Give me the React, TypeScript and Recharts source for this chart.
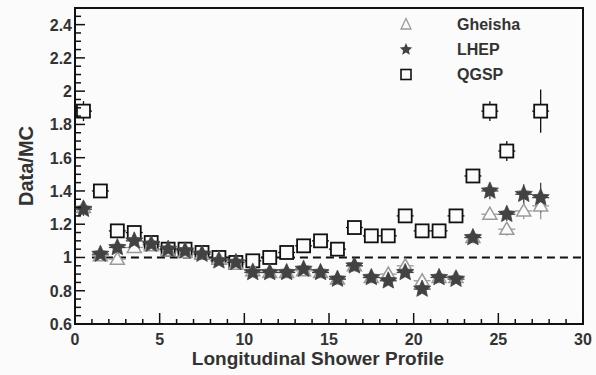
import React from 'react';
import {
  ScatterChart,
  Scatter,
  XAxis,
  YAxis,
  ReferenceLine,
  ReferenceArea,
  ErrorBar,
  Legend,
} from 'recharts';

// ---- data ----
const binCenters = [
  0.5, 1.5, 2.5, 3.5, 4.5, 5.5, 6.5, 7.5, 8.5, 9.5, 10.5, 11.5, 12.5, 13.5,
  14.5, 15.5, 16.5, 17.5, 18.5, 19.5, 20.5, 21.5, 22.5, 23.5, 24.5, 25.5, 26.5, 27.5,
];
const binHalfWidth = 0.5;

const gheishaValues = [
  1.3, 1.01, 0.99, 1.06, 1.07, 1.04, 1.03, 1.02, 0.99, 0.96, 0.92, 0.91, 0.91, 0.92,
  0.91, 0.87, 0.95, 0.88, 0.9, 0.95, 0.86, 0.88, 0.88, 1.12, 1.26, 1.17, 1.28, 1.31,
];
const gheishaErrors = [
  0.04, 0.02, 0.02, 0.02, 0.01, 0.01, 0.01, 0.01, 0.01, 0.01, 0.01, 0.01, 0.01, 0.01,
  0.01, 0.02, 0.02, 0.02, 0.02, 0.02, 0.02, 0.02, 0.02, 0.03, 0.03, 0.04, 0.05, 0.08,
];

const lhepValues = [
  1.29, 1.02, 1.06, 1.1, 1.08, 1.05, 1.04, 1.02, 0.98, 0.97, 0.91, 0.91, 0.91, 0.93,
  0.91, 0.87, 0.95, 0.88, 0.86, 0.91, 0.81, 0.88, 0.87, 1.12, 1.4, 1.26, 1.38, 1.36,
];
const lhepErrors = [
  0.04, 0.02, 0.02, 0.02, 0.01, 0.01, 0.01, 0.01, 0.01, 0.01, 0.01, 0.01, 0.01, 0.01,
  0.01, 0.02, 0.02, 0.02, 0.02, 0.02, 0.02, 0.02, 0.02, 0.03, 0.05, 0.04, 0.06, 0.09,
];

const qgspValues = [
  1.88, 1.4, 1.16, 1.15, 1.09, 1.05, 1.05, 1.03, 1.0, 0.97, 0.98, 1.0, 1.03, 1.07,
  1.1, 1.05, 1.18, 1.13, 1.13, 1.25, 1.16, 1.16, 1.25, 1.49, 1.88, 1.64, null, 1.88,
];
const qgspErrors = [
  0.06, 0.02, 0.02, 0.02, 0.01, 0.01, 0.01, 0.01, 0.01, 0.01, 0.01, 0.01, 0.01, 0.01,
  0.01, 0.02, 0.02, 0.02, 0.02, 0.02, 0.02, 0.02, 0.02, 0.03, 0.06, 0.06, null, 0.13,
];

const xMajorTicks = [0, 5, 10, 15, 20, 25, 30];
const yMajorTicks = [0.6, 0.8, 1, 1.2, 1.4, 1.6, 1.8, 2, 2.2, 2.4];
const seriesNames = ['Gheisha', 'LHEP', 'QGSP'];
const xTitle = 'Longitudinal Shower Profile';
const yTitle = 'Data/MC';

// ---- helpers ----
type Pt = { x: number; y: number; ex: number; ey: number };
const build = (vals: (number | null)[], errs: (number | null)[]): Pt[] =>
  binCenters
    .map((x, i) => ({ x, y: vals[i] as number, ex: binHalfWidth, ey: (errs[i] ?? 0) as number }))
    .filter((d) => d.y !== null && d.y !== undefined);

const gheishaData = build(gheishaValues, gheishaErrors);
const lhepData = build(lhepValues, lhepErrors);
const qgspData = build(qgspValues, qgspErrors);

const xTicks = Array.from({ length: 31 }, (_, i) => i);
const yTicks = Array.from({ length: 38 }, (_, i) => Math.round((0.6 + i * 0.05) * 100) / 100);

const FONT = '"Liberation Sans", Arial, Helvetica, sans-serif';
const TEXT = '#333';
const AXIS = '#111';
const BG = '#fbfbfb';

const starPoints = (cx: number, cy: number, ro: number, ri: number) => {
  const pts: string[] = [];
  for (let k = 0; k < 10; k++) {
    const r = k % 2 === 0 ? ro : ri;
    const a = -Math.PI / 2 + (k * Math.PI) / 5;
    pts.push(`${cx + r * Math.cos(a)},${cy + r * Math.sin(a)}`);
  }
  return pts.join(' ');
};

const NoShape = () => <g />;
const SquareShape = (p: any) => {
  const s = 6.5;
  return (
    <rect x={p.cx - s} y={p.cy - s} width={2 * s} height={2 * s} fill={BG} stroke="#111" strokeWidth={1.8} />
  );
};
const StarShape = (p: any) => (
  <polygon points={starPoints(p.cx, p.cy, 9, 4.2)} fill="#424242" stroke="#424242" strokeWidth={0.8} />
);
const TriangleShape = (p: any) => (
  <polygon
    points={`${p.cx},${p.cy - 7} ${p.cx - 7},${p.cy + 5} ${p.cx + 7},${p.cy + 5}`}
    fill={BG}
    stroke="#9a9a9a"
    strokeWidth={1.5}
  />
);

const XTick = (props: any) => {
  const { x, y, payload } = props;
  const v = payload.value;
  const major = xMajorTicks.includes(v);
  return (
    <g>
      <line x1={x} x2={x} y1={y} y2={y - (major ? 11 : 5)} stroke={AXIS} strokeWidth={1.5} />
      {major && (
        <text x={x} y={y + 21} textAnchor="middle" fontFamily={FONT} fontWeight="bold" fontSize={16} fill={TEXT}>
          {v}
        </text>
      )}
    </g>
  );
};

const YTick = (props: any) => {
  const { x, y, payload } = props;
  const v = payload.value;
  const major = yMajorTicks.includes(v);
  return (
    <g>
      <line x1={x} x2={x + (major ? 10 : 6)} y1={y} y2={y} stroke={AXIS} strokeWidth={1.5} />
      {major && (
        <text x={x - 3} y={y + 6} textAnchor="end" fontFamily={FONT} fontWeight="bold" fontSize={16} fill={TEXT}>
          {String(v)}
        </text>
      )}
    </g>
  );
};

const XTitle = () => (
  <text x={318} y={365} textAnchor="middle" fontFamily={FONT} fontWeight="bold" fontSize={19} fill={TEXT}>
    {xTitle}
  </text>
);
const YTitle = () => (
  <text
    x={33}
    y={166}
    transform="rotate(-90 33 166)"
    textAnchor="middle"
    fontFamily={FONT}
    fontWeight="bold"
    fontSize={20}
    fill={TEXT}
  >
    {yTitle}
  </text>
);

const LegendSymbol = ({ idx }: { idx: number }) => (
  <svg width={20} height={25} style={{ display: 'block' }}>
    {idx === 0 && (
      <polygon points="10,6.5 5,17 15,17" fill="none" stroke="#9a9a9a" strokeWidth={1.3} />
    )}
    {idx === 1 && <polygon points={starPoints(10, 12.5, 6.5, 3)} fill="#444" />}
    {idx === 2 && <rect x={5} y={7.5} width={10} height={10} fill="none" stroke="#111" strokeWidth={1.6} />}
  </svg>
);

const LegendContent = () => (
  <div style={{ fontFamily: FONT, fontWeight: 'bold', fontSize: 16, color: TEXT }}>
    {seriesNames.map((n, i) => (
      <div key={n} style={{ display: 'flex', alignItems: 'center', height: 25 }}>
        <LegendSymbol idx={i} />
        <span style={{ marginLeft: 41, lineHeight: '25px' }}>{n}</span>
      </div>
    ))}
  </div>
);

export default function App() {
  return (
    <div style={{ position: 'absolute', left: 0, top: 0, width: 596, height: 375, background: BG }}>
      <ScatterChart width={596} height={375} margin={{ top: 8, right: 13, bottom: 0, left: 0 }}>
        <XAxis
          type="number"
          dataKey="x"
          domain={[0, 30]}
          allowDataOverflow
          ticks={xTicks}
          interval={0}
          tick={<XTick />}
          tickLine={false}
          axisLine={false}
          tickSize={0}
          tickMargin={0}
          height={51}
          label={<XTitle />}
        />
        <YAxis
          type="number"
          dataKey="y"
          domain={[0.6, 2.5]}
          allowDataOverflow
          ticks={yTicks}
          interval={0}
          tick={<YTick />}
          tickLine={false}
          axisLine={false}
          tickSize={0}
          tickMargin={0}
          width={75}
          label={<YTitle />}
        />
        <ReferenceArea x1={0} x2={30} y1={0.6} y2={2.5} fill="none" stroke={AXIS} strokeWidth={2} ifOverflow="visible" />
        <ReferenceLine
          segment={[{ x: 1, y: 1 }, { x: 30, y: 1 }]}
          stroke={AXIS}
          strokeWidth={2}
          strokeDasharray="8 5"
        />
        {/* QGSP: error bars then hollow squares masking the bar inside */}
        <Scatter name="QGSP-err" data={qgspData} isAnimationActive={false} shape={NoShape} legendType="none">
          <ErrorBar dataKey="ex" direction="x" width={0} stroke="#111" strokeWidth={1.3} />
          <ErrorBar dataKey="ey" direction="y" width={0} stroke="#111" strokeWidth={1.3} />
        </Scatter>
        <Scatter name="QGSP" data={qgspData} isAnimationActive={false} shape={SquareShape} />
        {/* Gheisha */}
        <Scatter name="Gheisha-err" data={gheishaData} isAnimationActive={false} shape={NoShape} legendType="none">
          <ErrorBar dataKey="ex" direction="x" width={0} stroke="#9a9a9a" strokeWidth={1.3} />
          <ErrorBar dataKey="ey" direction="y" width={0} stroke="#9a9a9a" strokeWidth={1.3} />
        </Scatter>
        <Scatter name="Gheisha" data={gheishaData} isAnimationActive={false} shape={TriangleShape} />
        {/* LHEP */}
        <Scatter name="LHEP-err" data={lhepData} isAnimationActive={false} shape={NoShape} legendType="none">
          <ErrorBar dataKey="ex" direction="x" width={0} stroke="#424242" strokeWidth={1.3} />
          <ErrorBar dataKey="ey" direction="y" width={0} stroke="#424242" strokeWidth={1.3} />
        </Scatter>
        <Scatter name="LHEP" data={lhepData} isAnimationActive={false} shape={StarShape} />
        <Legend
          layout="vertical"
          align="center"
          verticalAlign="middle"
          content={<LegendContent />}
          wrapperStyle={{ position: 'absolute', left: 396, top: 12, width: 160, height: 75 }}
        />
      </ScatterChart>
    </div>
  );
}
